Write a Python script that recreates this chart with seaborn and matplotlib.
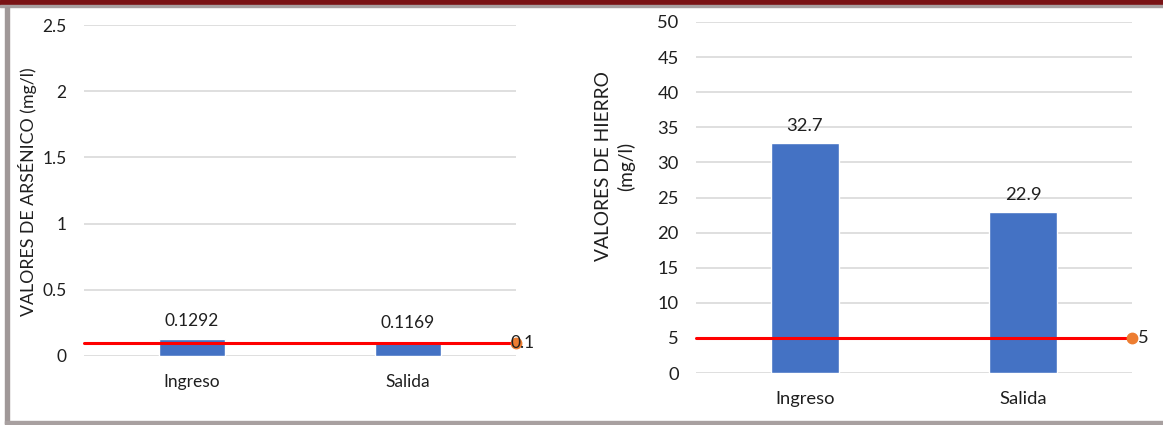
import numpy as np
import pandas as pd
import matplotlib
matplotlib.use("Agg")
import matplotlib.pyplot as plt
from matplotlib.patches import Rectangle
import seaborn as sns

# Data
categories = ["Ingreso", "Salida"]
arsenico = [0.1292, 0.1169]
hierro = [32.7, 22.9]
limite_arsenico = 0.1
limite_hierro = 5
ticks_arsenico = [0, 0.5, 1, 1.5, 2, 2.5]
ticks_hierro = [0, 5, 10, 15, 20, 25, 30, 35, 40, 45, 50]
label_arsenico = "VALORES DE ARSÉNICO (mg/l)"
label_hierro = "VALORES DE HIERRO\n(mg/l)"

W, H = 1163, 425
BLUE = "#4472C4"
ORANGE = "#ED7D31"
GRID = "#D9D9D9"
TXT = "#1F1F1F"

sns.set_theme(style="white")
plt.rcParams["font.family"] = ["Lato", "DejaVu Sans"]


def px_axes(fig, x0, x1, y_top, y_bot):
    return fig.add_axes([x0 / W, 1 - y_bot / H, (x1 - x0) / W, (y_bot - y_top) / H])


def draw_panel(ax, values, limit, ticks, fmt, lim_dx, fs):
    df = pd.DataFrame({"cat": categories, "val": values})
    sns.barplot(data=df, x="cat", y="val", color=BLUE, width=0.31,
                saturation=1, ax=ax, zorder=2)
    ax.set_xlim(-0.5, 1.5)
    ax.set_ylim(ticks[0], ticks[-1])
    ax.set_yticks(ticks)
    ax.set_yticklabels([f"{t:g}" for t in ticks])
    ax.yaxis.grid(True, color=GRID, linewidth=1.2, zorder=0)
    ax.set_axisbelow(True)
    for s in ax.spines.values():
        s.set_visible(False)
    ax.tick_params(axis="both", length=0, labelsize=fs, colors=TXT)
    ax.tick_params(axis="y", pad=12.5)
    ax.tick_params(axis="x", pad=13)
    ax.set_xlabel("")
    ax.set_ylabel("")
    for i, v in enumerate(values):
        ax.annotate(fmt(v), (i, v), xytext=(0, 7), textcoords="offset points",
                    ha="center", va="bottom", fontsize=fs, color=TXT)
    # limit line with end marker
    ax.plot([-0.5, 1.5], [limit, limit], color="#FF0000", linewidth=2.2,
            zorder=3, clip_on=False)
    ax.plot([1.5], [limit], "o", color=ORANGE, markersize=7.5, zorder=4,
            clip_on=False)
    ax.annotate(f"{limit:g}", (1.5, limit), xytext=(lim_dx, 0),
                textcoords="offset points", ha="left", va="center",
                fontsize=fs, color=TXT, zorder=5)


fig = plt.figure(figsize=(W / 100, H / 100), dpi=100)

ax1 = px_axes(fig, 84, 516, 25, 356)
draw_panel(ax1, arsenico, limite_arsenico, ticks_arsenico,
           lambda v: f"{v:.4f}", -4, 12.5)

ax2 = px_axes(fig, 696, 1132, 22, 373)
draw_panel(ax2, hierro, limite_hierro, ticks_hierro,
           lambda v: f"{v:.1f}", 4, 13.2)

fig.text(28 / W, 1 - 192 / H, label_arsenico, rotation=90, ha="center",
         va="center", fontsize=12.8, color=TXT)
fig.text(615 / W, 1 - 166 / H, label_hierro, rotation=90, ha="center",
         va="center", fontsize=13.8, color=TXT, multialignment="center",
         linespacing=1.3)

# frame decorations
fig.patches.append(Rectangle((0, 1 - 5 / H), 1, 5 / H, transform=fig.transFigure,
                             color="#7A1315", zorder=0))
fig.patches.append(Rectangle((0, 1 - 7 / H), 1, 2 / H, transform=fig.transFigure,
                             color="#A8A0A0", zorder=0))
fig.patches.append(Rectangle((5 / W, 1 / H), 4 / W, 1 - 8 / H,
                             transform=fig.transFigure, color="#A09898", zorder=0))
fig.patches.append(Rectangle((5 / W, 1 / H), 1 - 5 / W, 3 / H,
                             transform=fig.transFigure, color="#A8A0A0", zorder=0))

fig.savefig("out.png", dpi=100)
